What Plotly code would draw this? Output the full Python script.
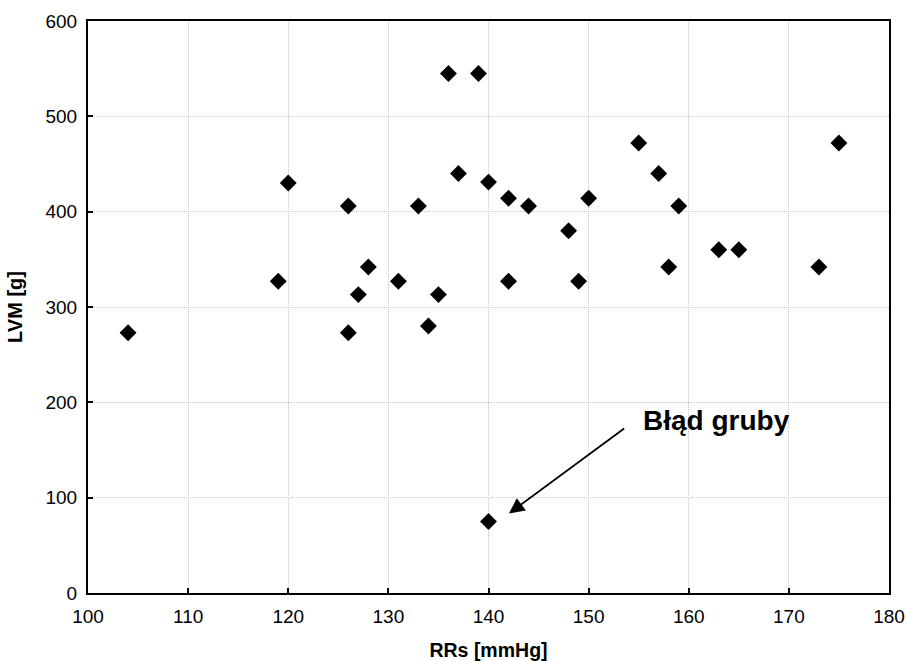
import plotly.graph_objects as go

# Systolic blood pressure (mmHg) and left ventricular mass (g)
rrs = [104, 119, 120, 126, 126, 127, 128, 131, 133, 134, 135, 136, 137, 139, 140,
       140, 142, 142, 144, 148, 149, 150, 155, 157, 158, 159, 163, 165, 173, 175]
lvm = [273, 327, 430, 406, 273, 313, 342, 327, 406, 280, 313, 545, 440, 545, 431,
       75, 414, 327, 406, 380, 327, 414, 472, 440, 342, 406, 360, 360, 342, 472]

x_ticks = [100, 110, 120, 130, 140, 150, 160, 170, 180]
y_ticks = [0, 100, 200, 300, 400, 500, 600]

outlier_label = "Błąd gruby"
outlier_x, outlier_y = 140, 75

FONT = "Arial, Liberation Sans, sans-serif"

fig = go.Figure()
fig.add_trace(go.Scatter(
    x=rrs, y=lvm, mode="markers",
    marker=dict(symbol="diamond", size=13, color="black", line=dict(width=0)),
    showlegend=False,
))

axis_common = dict(
    showline=True, linecolor="black", linewidth=2, mirror=True,
    ticks="inside", ticklen=5, tickwidth=1.5, tickcolor="black",
    showgrid=True, gridcolor="#c8c8c8", griddash="1px,1px", gridwidth=1,
    zeroline=False, automargin=False,
    tickfont=dict(family=FONT, size=19, color="black"),
)

fig.update_xaxes(
    range=[100, 180], tickvals=x_ticks, ticktext=[str(v) for v in x_ticks],
    ticklabelstandoff=5,
    title=dict(text="<b>RRs [mmHg]</b>", font=dict(family=FONT, size=19.5, color="black"),
               standoff=18),
    **axis_common,
)
fig.update_yaxes(
    range=[0, 600], tickvals=y_ticks, ticktext=[str(v) for v in y_ticks],
    ticklabelstandoff=5,
    title=dict(text="<b>LVM [g]</b>", font=dict(family=FONT, size=20, color="black"),
               standoff=17),
    **axis_common,
)

# Arrow pointing at the outlying measurement
fig.add_annotation(
    x=outlier_x + 2.05, y=outlier_y + 8.5, ax=153.7, ay=173.8,
    xref="x", yref="y", axref="x", ayref="y",
    text="", showarrow=True, arrowhead=2, arrowsize=1.7, arrowwidth=1.8,
    arrowcolor="black",
)
fig.add_annotation(
    x=155.2, y=181, xref="x", yref="y", xanchor="left", yanchor="middle",
    text="<b>" + outlier_label + "</b>", showarrow=False,
    font=dict(family=FONT, size=28, color="black"),
)

fig.update_layout(
    width=906, height=661,
    margin=dict(l=88, r=17, t=21, b=68),
    plot_bgcolor="white", paper_bgcolor="white",
)

fig.write_html("out.html")
